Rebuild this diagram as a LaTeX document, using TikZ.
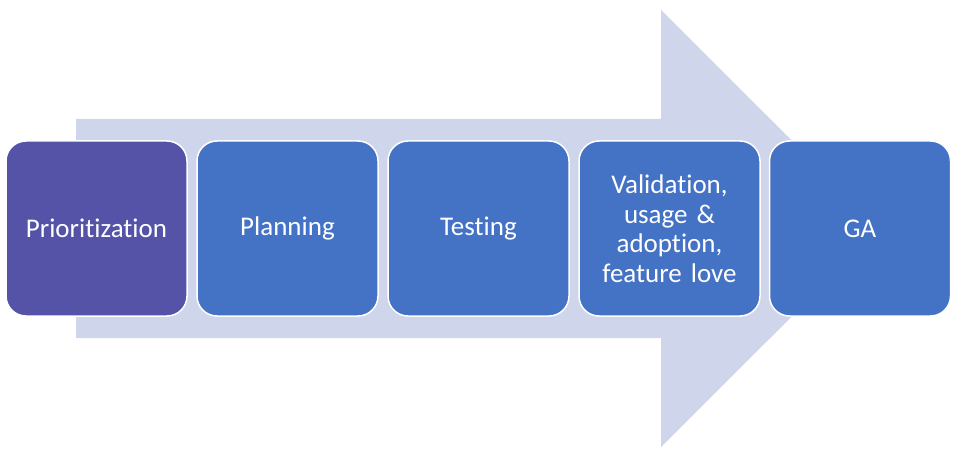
\documentclass[tikz,border=0pt]{standalone}
\usepackage{fontspec}
\setmainfont[Ligatures=NoCommon]{Carlito}
\definecolor{arrowfill}{RGB}{207,213,234}
\definecolor{boxblue}{RGB}{68,114,196}
\definecolor{boxpurple}{RGB}{84,83,167}
\begin{document}
\begin{tikzpicture}[x=1pt,y=-1pt,
  stage/.style={draw=white,line width=1.5pt,rounded corners=20pt,minimum width=181pt,minimum height=175pt,
    inner sep=0pt,align=center,text=white,font=\fontsize{27}{29.5}\selectfont,text width=175pt,fill=boxblue}]
\useasboundingbox (0,0) rectangle (961,457);
\fill[arrowfill] (76,119) -- (661,119) -- (661,10) -- (880,228.5) -- (661,447) -- (661,338) -- (76,338) -- cycle;
\node[stage,fill=boxpurple] (n1) at (96.5,228.5) {Prioritization};
\node[stage] (n2) at (287.5,228.5) {Planning};
\node[stage] (n3) at (478.5,228.5) {Testing};
\node[stage] (n4) at (669.5,228.5) {Validation,\\usage \&\\adoption,\\feature love};
\node[stage] (n5) at (860,228.5) {GA};
\end{tikzpicture}
\end{document}
